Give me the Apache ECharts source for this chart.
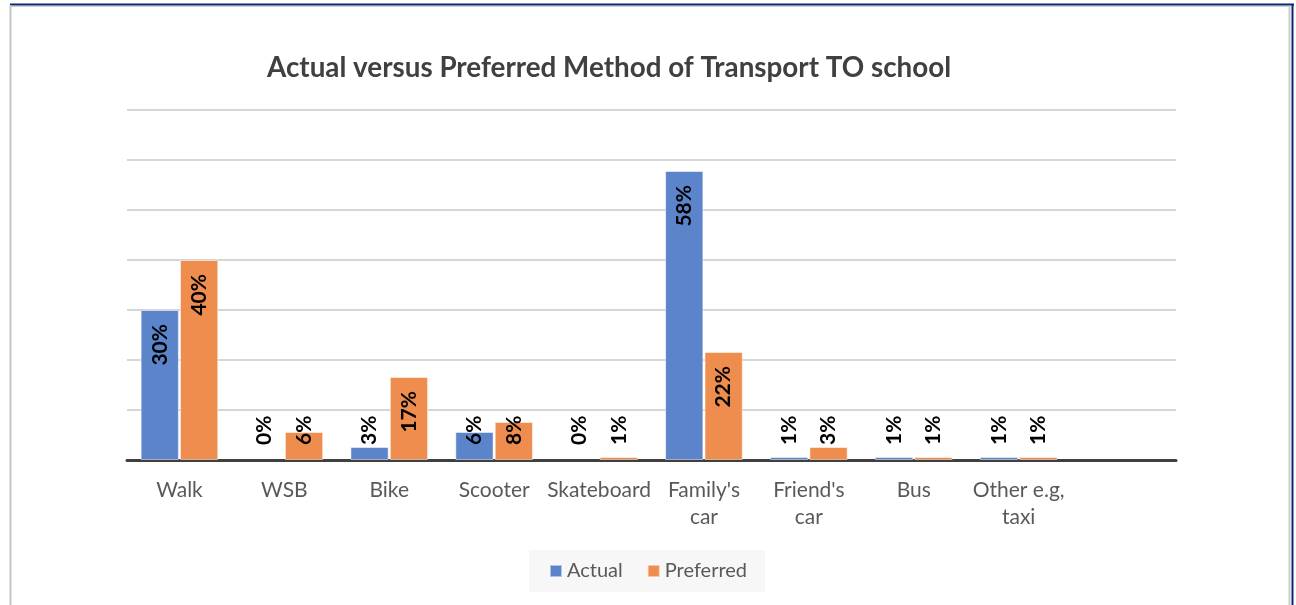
<!DOCTYPE html>
<html>
<head>
<meta charset="utf-8">
<script src="https://cdn.jsdelivr.net/npm/echarts@6/dist/echarts.min.js"></script>
<style>
	html, body { margin: 0; padding: 0; background: #fff; }
	#main { width: 1296px; height: 605px; }
</style>
</head>
<body>
<div id="main"></div>
<script>
var categories = ['Walk', 'WSB', 'Bike', 'Scooter', 'Skateboard', "Family's\ncar", "Friend's\ncar", 'Bus', 'Other e.g,\ntaxi', ''];
var actual = [30, 0, 2.6, 5.6, 0, 57.8, 0.6, 0.6, 0.6, null];
var preferred = [40, 5.6, 16.6, 7.6, 0.6, 21.6, 2.6, 0.6, 0.6, null];
var yTicks = [0, 10, 20, 30, 40, 50, 60, 70];

var fontFamily = 'Lato, "Open Sans", sans-serif';

// labels sit near the top of tall bars, small bars get them stacked above the baseline
function buildData(values) {
	var out = [];
	for (var i = 0; i < values.length; i++) {
		var v = values[i];
		if (v === null) {
			out.push(null);
			continue;
		}
		var lab;
		if (v >= 10) {
			lab = { position: 'insideTop', align: 'right', distance: 14 };
		} else {
			lab = { position: 'insideBottom', align: 'left', distance: 15 };
		}
		var item = { value: v, label: lab };
		if (v === 0) {
			item.itemStyle = { borderWidth: 0 };
		}
		out.push(item);
	}
	return out;
}

var labelStyle = {
	show: true,
	rotate: 90,
	verticalAlign: 'middle',
	fontFamily: fontFamily,
	fontWeight: 'bold',
	fontSize: 21,
	color: '#000',
	formatter: function(p) {
		return Math.round(p.value) + '%';
	}
};

var myChart = echarts.init(document.getElementById('main'));

var option = {
	animation: false,
	backgroundColor: '#fff',
	title: {
		text: 'Actual versus Preferred Method of Transport TO school',
		left: 262,
		top: 49,
		textStyle: {
			fontFamily: fontFamily,
			fontWeight: 'bold',
			fontSize: 27.8,
			color: '#404040'
		}
	},
	legend: {
		data: ['Actual', 'Preferred'],
		bottom: 13,
		left: 'center',
		backgroundColor: '#f7f7f7',
		padding: [11, 18, 11, 20],
		itemWidth: 12,
		itemHeight: 12,
		itemGap: 24,
		icon: 'rect',
		textStyle: {
			fontFamily: fontFamily,
			fontSize: 20,
			color: '#595959'
		}
	},
	grid: {
		left: 127,
		right: 120,
		top: 110,
		bottom: 145
	},
	xAxis: {
		type: 'category',
		data: categories,
		axisTick: { show: false },
		axisLine: {
			lineStyle: { color: '#404040', width: 3 }
		},
		axisLabel: {
			margin: 17,
			interval: 0,
			fontFamily: fontFamily,
			fontSize: 21,
			lineHeight: 27,
			color: '#595959'
		}
	},
	yAxis: {
		type: 'value',
		min: yTicks[0],
		max: yTicks[yTicks.length - 1],
		interval: 10,
		axisLabel: { show: false },
		axisLine: { show: false },
		axisTick: { show: false },
		splitLine: {
			lineStyle: { color: '#c8c8c8', width: 1.5 }
		}
	},
	series: [{
		name: 'Actual',
		type: 'bar',
		barGap: '3%',
		barCategoryGap: '26%',
		itemStyle: {
			color: '#5b84cb',
			borderColor: 'rgba(255,255,255,0.5)',
			borderWidth: 1
		},
		label: labelStyle,
		data: buildData(actual)
	}, {
		name: 'Preferred',
		type: 'bar',
		itemStyle: {
			color: '#ee8d4e',
			borderColor: 'rgba(255,255,255,0.5)',
			borderWidth: 1
		},
		label: labelStyle,
		data: buildData(preferred)
	}],
	graphic: [
		{ type: 'line', shape: { x1: 10, y1: 6.5, x2: 1290, y2: 6.5 }, style: { stroke: '#d0d0d0', lineWidth: 1 } },
		{ type: 'line', shape: { x1: 10, y1: 4.5, x2: 1294, y2: 4.5 }, style: { stroke: '#0d2470', lineWidth: 2 } },
		{ type: 'line', shape: { x1: 1292.5, y1: 4, x2: 1292.5, y2: 605 }, style: { stroke: '#0d2470', lineWidth: 2 } },
		{ type: 'line', shape: { x1: 10.5, y1: 5, x2: 10.5, y2: 605 }, style: { stroke: '#c4c4c4', lineWidth: 2 } },
		{ type: 'line', shape: { x1: 1289.5, y1: 6, x2: 1289.5, y2: 605 }, style: { stroke: '#cccccc', lineWidth: 2 } }
	]
};
myChart.setOption(option);
</script>
</body>
</html>
